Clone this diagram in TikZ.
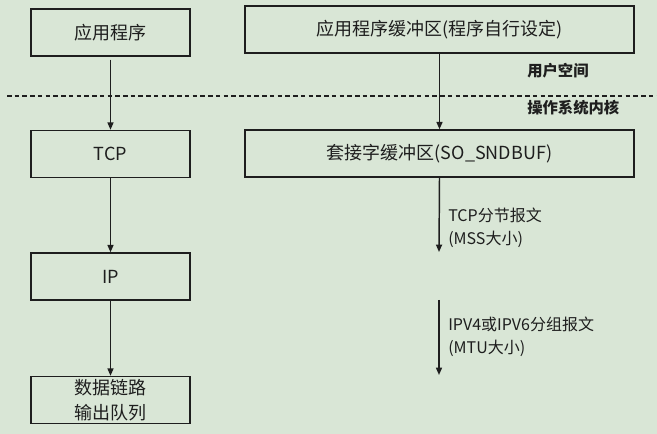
\documentclass[tikz,border=0pt]{standalone}
\usepackage{fontspec}
\setmainfont{Noto Sans CJK SC}
\usetikzlibrary{arrows.meta}
\definecolor{bgc}{RGB}{217,230,214}
\definecolor{ink}{RGB}{30,30,30}
\begin{document}
\begin{tikzpicture}[x=0.75pt,y=-0.75pt,
  box/.style={draw=ink,line width=1.1pt,fill=bgc,inner sep=0pt,minimum height=35.25pt,font=\fontsize{13.5}{19}\selectfont,text=ink,align=center},
  lbox/.style={box,minimum width=119.25pt},
  rbox/.style={box,minimum width=291.75pt},
  arr/.style={draw=ink,line width=1.1pt,-{Triangle[length=5.5pt,width=4.5pt]}},
  lab/.style={anchor=west,inner sep=0pt,font=\fontsize{12}{17.5}\selectfont,text=ink,align=left},
  zone/.style={anchor=west,inner sep=0pt,font=\bfseries\fontsize{11.5}{14}\selectfont,text=ink}]
\fill[bgc] (0,0) rectangle (657,434);
\useasboundingbox (0,0) rectangle (657,434);
\node[lbox] (app) at (110.5,32.5) {应用程序};
\node[lbox] (tcp) at (110.5,154) {TCP};
\node[lbox] (ip) at (110.5,276.5) {IP};
\node[lbox] (dl) at (110.5,400) {数据链路\\输出队列};
\node[rbox] (abuf) at (439.5,29.5) {应用程序缓冲区(程序自行设定)};
\node[rbox] (sbuf) at (439.5,153.5) {套接字缓冲区(SO\_SNDBUF)};
\coordinate (dashL) at (7,96);
\coordinate (dashR) at (657,96);
\draw[ink,line width=0.9pt,dash pattern=on 3.4pt off 2.4pt] (dashL) -- (dashR);
\node[zone] (user) at (527,71) {用户空间};
\node[zone] (kern) at (527,108) {操作系统内核};
\draw[arr,shorten <=2.2pt] (app) -- (tcp);
\draw[arr] (tcp) -- (ip);
\draw[arr] (ip) -- (dl);
\draw[arr] (abuf) -- (sbuf);
\coordinate (a1e) at (439,252);
\coordinate (a2s) at (439,300);
\coordinate (a2e) at (439,375);
\draw[arr] (sbuf.south) -- (a1e);
\draw[arr] (a2s) -- (a2e);
\node[lab] (l1) at (448,228) {TCP分节报文\\(MSS大小)};
\node[lab] (l2) at (448,337) {IPV4或IPV6分组报文\\(MTU大小)};
\end{tikzpicture}
\end{document}
